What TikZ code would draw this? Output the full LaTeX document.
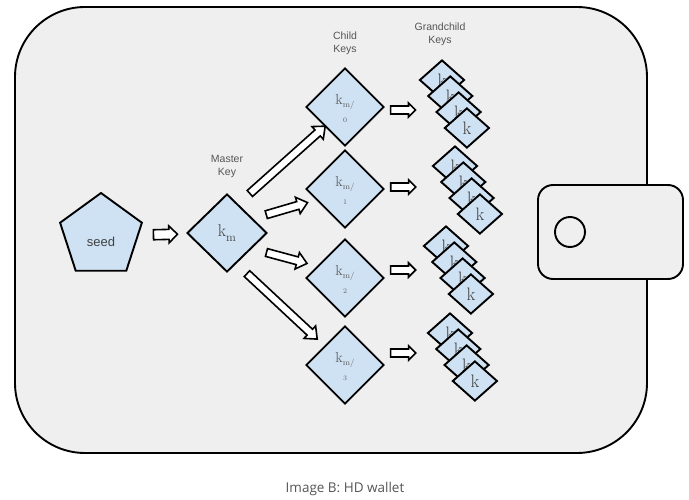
\documentclass[tikz,border=0pt]{standalone}
\usepackage{fontspec}
\newfontfamily\arialfont{Liberation Sans}
\newfontfamily\capfont{Open Sans}
\usetikzlibrary{shapes.geometric,shapes.arrows}
\definecolor{keyblue}{HTML}{CFE2F3}
\definecolor{walletgray}{HTML}{EFEFEF}
\definecolor{labelgray}{HTML}{555555}

\begin{document}
\begin{tikzpicture}[x=1pt,y=-1pt,line width=1.9pt,
  keybox/.style={diamond,draw,fill=keyblue,inner sep=0pt,minimum width=78pt,minimum height=78pt},
  grandbox/.style={diamond,draw,fill=keyblue,inner sep=0pt,minimum width=45pt,minimum height=40pt,font=\fontsize{18}{18}\selectfont,text=black!75},
  harrow/.style={single arrow,draw,fill=white,line width=1.6pt,inner xsep=0pt,inner ysep=3.2pt,single arrow head extend=4.5pt,single arrow tip angle=80,sloped,allow upside down},
  garrow/.style={harrow,single arrow head extend=3.1pt,single arrow tip angle=90,minimum height=25pt},
  ktext/.style={font=\fontsize{14.5}{14.5}\selectfont,text=black!62},
  digittext/.style={font=\fontsize{7}{7}\selectfont,text=black!62},
  keylabel/.style={font=\arialfont\fontsize{10.5}{13}\selectfont,text=labelgray,align=center}]
\useasboundingbox (0,0) rectangle (689,500);
% wallet
\draw[fill=walletgray,rounded corners=70pt] (15,7) rectangle (647,453);
\draw[fill=walletgray,rounded corners=15pt] (538,185) rectangle (683,279);
\draw (570,232) circle[radius=15pt];
% seed and master key
\node[regular polygon,regular polygon sides=5,draw,fill=keyblue,inner sep=0pt,minimum size=86pt,
  label={[yshift=-6pt,font=\arialfont\fontsize{13}{13}\selectfont,text=black!75]center:seed}] (seed) at (101,236) {};
\node[keybox,minimum width=80pt,font=\fontsize{17}{17}\selectfont,text=black!75] (km) at (227,233) {k\raisebox{-5pt}{\fontsize{12}{12}\selectfont m}};
\node[keylabel] (mlabel) at (227,166) {Master\\Key};
% child keys
\foreach \i/\y in {0/107,1/189,2/278,3/365}{
  \node[keybox,label={[ktext,yshift=4.5pt]center:{k\raisebox{-3pt}{\fontsize{8.5}{8.5}\selectfont m/}}},
    label={[digittext,yshift=-13pt]center:\i}] (c\i) at (345,\y) {};
}
\node[keylabel] (clabel) at (345,43) {Child\\Keys};
\node[keylabel] (glabel) at (440,34) {Grandchild\\Keys};
% arrows from master
\path (seed) -- node[harrow,inner ysep=4.2pt,single arrow head extend=3.5pt,single arrow tip angle=90,minimum height=24pt] {} (km);
\path (km.69) -- node[harrow,pos=.55,minimum height=101pt] {} (c0.224);
\path (km.29) -- node[harrow,minimum height=43pt] {} (c1.201);
\path (km.-32) -- node[harrow,minimum height=42pt] {} (c2.157);
\path (km.-73) -- node[harrow,minimum height=96pt] {} (c3.137);
% grandchild stacks
\foreach \i/\bx/\by/\dy/\p in {0/442/80/-3/.48,1/455/166/2/.35,2/446/246/8/.43,3/450/333/12/.39}{
  \foreach \j in {1,...,4}
    \node[grandbox] (g\i\j) at (\bx+\j*8.3-8.3,\by+\j*16-16) {k};
  \path (c\i.east) -- node[garrow,pos=\p,yshift=\dy pt] {} (c\i.east -| g\i1.west);
}
\node[font=\capfont\fontsize{13.5}{13.5}\selectfont,text=labelgray] (caption) at (345,489) {Image B: HD wallet};
\end{tikzpicture}
\end{document}
